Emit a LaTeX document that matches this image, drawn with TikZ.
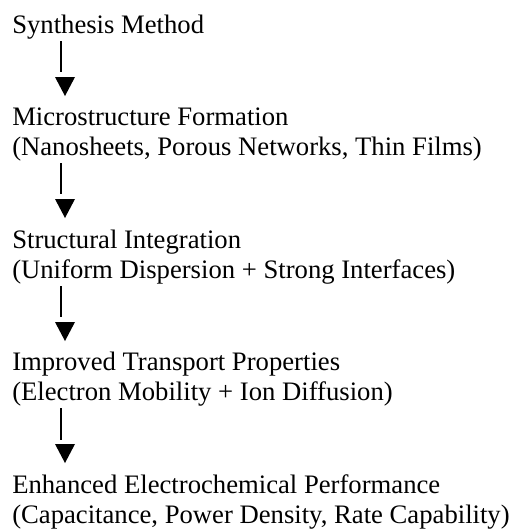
\documentclass[tikz,border=0pt]{standalone}
\usepackage{fontspec}
\setmainfont{Liberation Serif}
\usepackage{tikz}
\usetikzlibrary{positioning}

\begin{document}
\begin{tikzpicture}[x=0.75pt,y=-0.75pt,
		txt/.style={anchor=base west,inner sep=0pt,font=\fontsize{20}{24}\selectfont},
		stem/.style={line width=1.5pt},
		head/.style={fill=black}]
		\useasboundingbox (0,0) rectangle (511,529);
		% text lines
		\node[txt] (synth) at (12,33) {Synthesis Method};
		\node[txt] (micro) at (12,125) {Microstructure Formation};
		\node[txt] (microsub) at (12,155) {(Nanosheets, Porous Networks, Thin Films)};
		\node[txt] (integ) at (12,248) {Structural Integration};
		\node[txt] (integsub) at (12,278) {(Uniform Dispersion + Strong Interfaces)};
		\node[txt] (trans) at (12,370) {Improved Transport Properties};
		\node[txt] (transsub) at (12,400) {(Electron Mobility + Ion Diffusion)};
		\node[txt] (perf) at (12,493) {Enhanced Electrochemical Performance};
		\node[txt] (perfsub) at (12,523) {(Capacitance, Power Density, Rate Capability)};
		% arrows
		\coordinate (a1) at (61,41);  \coordinate (b1) at (61,72);
		\coordinate (a2) at (61,163); \coordinate (b2) at (61,194);
		\coordinate (a3) at (61,286); \coordinate (b3) at (61,317);
		\coordinate (a4) at (61,408); \coordinate (b4) at (61,440);
		\draw[stem] (a1) -- (b1);
		\draw[stem] (a2) -- (b2);
		\draw[stem] (a3) -- (b3);
		\draw[stem] (a4) -- (b4);
		\fill[head] (55,77) -- (75,77) -- (65,96) -- cycle;
		\fill[head] (55,199) -- (75,199) -- (65,218) -- cycle;
		\fill[head] (55,322) -- (75,322) -- (65,341) -- cycle;
		\fill[head] (55,444) -- (75,444) -- (65,463) -- cycle;
	\end{tikzpicture}
\end{document}
